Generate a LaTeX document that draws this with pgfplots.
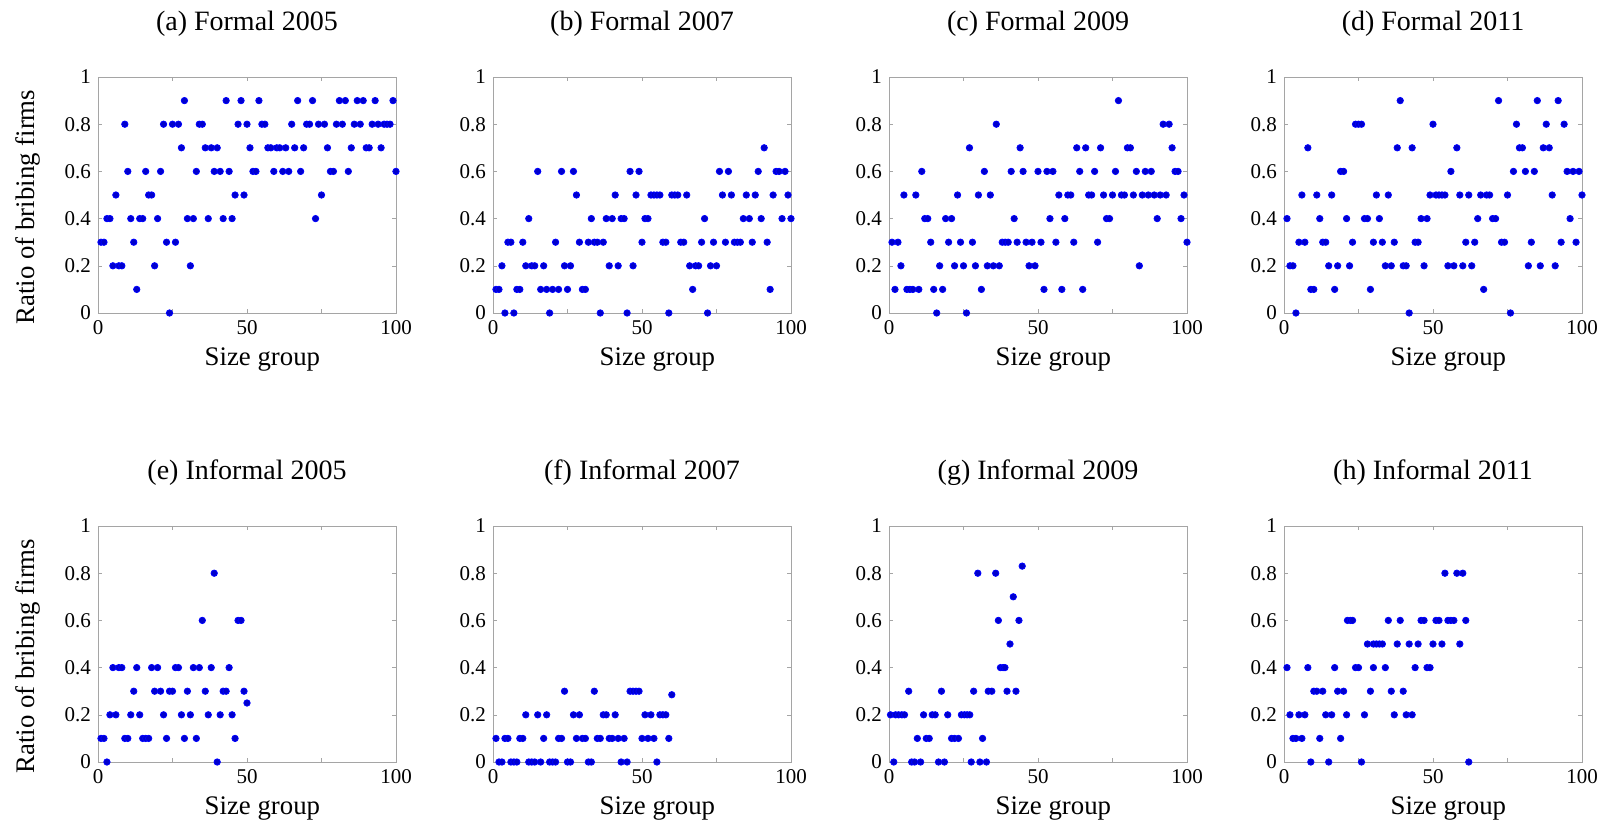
\documentclass[border=0pt]{standalone}
\usepackage{fontspec}
\setmainfont{Liberation Serif}
\usepackage{pgfplots}
\pgfplotsset{compat=1.18}

\definecolor{axgray}{RGB}{165,165,165}
\definecolor{dotblue}{RGB}{0,0,255}

\pgfplotsset{
  panel/.style={
    scale only axis,
    width=149pt, height=118pt,
    xmin=0, xmax=100, ymin=0, ymax=1,
    xtick={0,25,50,75,100}, xticklabels={0,,50,,100},
    ytick={0,0.2,0.4,0.6,0.8,1},
    tick align=inside,
    xtick pos=both, ytick pos=both,
    major tick length=2pt,
    axis line style={axgray},
    tick style={axgray},
    /pgf/number format/assume math mode=true,
    tick label style={font=\fontsize{10.5}{12}\selectfont, black},
    title style={at={(0.5,1)}, anchor=center, yshift=20.5pt,
                 font=\fontsize{14}{16}\selectfont},
    xlabel={Size group},
    xlabel style={at={(0.5,0)}, anchor=center, yshift=-23.5pt, xshift=7.7pt,
                  font=\fontsize{13.4}{15}\selectfont},
    ylabel style={at={(0,0.5)}, anchor=center, yshift=35pt, xshift=-6pt,
                  font=\fontsize{13.4}{15}\selectfont},
    every axis plot/.append style={only marks, mark=*, mark size=1.6pt,
                                   color=dotblue, mark options={draw=dotblue, fill=dotblue}},
  }
}

\begin{document}
\begin{tikzpicture}
\useasboundingbox (0,-412.5pt) rectangle (809pt,0);

% ---------------- Formal firms ----------------
\begin{axis}[panel, at={(49pt,-156.5pt)}, anchor=south west,
  title={(a) Formal 2005}, ylabel={Ratio of bribing firms}]
\addplot coordinates {
(1,0.3)(2,0.3)(3,0.4)(4,0.4)(5,0.2)(6,0.5)(7,0.2)(8,0.2)(9,0.8)(10,0.6)
(11,0.4)(12,0.3)(13,0.1)(14,0.4)(15,0.4)(16,0.6)(17,0.5)(18,0.5)(19,0.2)(20,0.4)
(21,0.6)(22,0.8)(23,0.3)(24,0)(25,0.8)(26,0.3)(27,0.8)(28,0.7)(29,0.9)(30,0.4)
(31,0.2)(32,0.4)(33,0.6)(34,0.8)(35,0.8)(36,0.7)(37,0.4)(38,0.7)(39,0.6)(40,0.7)
(41,0.6)(42,0.4)(43,0.9)(44,0.6)(45,0.4)(46,0.5)(47,0.8)(48,0.9)(49,0.5)(50,0.8)
(51,0.7)(52,0.6)(53,0.6)(54,0.9)(55,0.8)(56,0.8)(57,0.7)(58,0.7)(59,0.6)(60,0.7)
(61,0.7)(62,0.6)(63,0.7)(64,0.6)(65,0.8)(66,0.7)(67,0.9)(68,0.6)(69,0.7)(70,0.8)
(71,0.8)(72,0.9)(73,0.4)(74,0.8)(75,0.5)(76,0.8)(77,0.7)(78,0.6)(79,0.6)(80,0.8)
(81,0.9)(82,0.8)(83,0.9)(84,0.6)(85,0.7)(86,0.8)(87,0.9)(88,0.8)(89,0.9)(90,0.7)
(91,0.7)(92,0.8)(93,0.9)(94,0.8)(95,0.7)(96,0.8)(97,0.8)(98,0.8)(99,0.9)(100,0.6)
};
\end{axis}

\begin{axis}[panel, at={(246.5pt,-156.5pt)}, anchor=south west,
  title={(b) Formal 2007}]
\addplot coordinates {
(1,0.1)(2,0.1)(3,0.2)(4,0)(5,0.3)(6,0.3)(7,0)(8,0.1)(9,0.1)(10,0.3)
(11,0.2)(12,0.4)(13,0.2)(14,0.2)(15,0.6)(16,0.1)(17,0.2)(18,0.1)(19,0)(20,0.1)
(21,0.3)(22,0.1)(23,0.6)(24,0.2)(25,0.1)(26,0.2)(27,0.6)(28,0.5)(29,0.3)(30,0.1)
(31,0.1)(32,0.3)(33,0.4)(34,0.3)(35,0.3)(36,0)(37,0.3)(38,0.4)(39,0.2)(40,0.4)
(41,0.5)(42,0.2)(43,0.4)(44,0.4)(45,0)(46,0.6)(47,0.2)(48,0.5)(49,0.6)(50,0.3)
(51,0.4)(52,0.4)(53,0.5)(54,0.5)(55,0.5)(56,0.5)(57,0.3)(58,0.3)(59,0)(60,0.5)
(61,0.5)(62,0.5)(63,0.3)(64,0.3)(65,0.5)(66,0.2)(67,0.1)(68,0.2)(69,0.2)(70,0.3)
(71,0.4)(72,0)(73,0.2)(74,0.3)(75,0.2)(76,0.6)(77,0.5)(78,0.3)(79,0.6)(80,0.5)
(81,0.3)(82,0.3)(83,0.3)(84,0.4)(85,0.5)(86,0.4)(87,0.3)(88,0.5)(89,0.6)(90,0.4)
(91,0.7)(92,0.3)(93,0.1)(94,0.5)(95,0.6)(96,0.6)(97,0.4)(98,0.6)(99,0.5)(100,0.4)
};
\end{axis}

\begin{axis}[panel, at={(444.5pt,-156.5pt)}, anchor=south west,
  title={(c) Formal 2009}]
\addplot coordinates {
(1,0.3)(2,0.1)(3,0.3)(4,0.2)(5,0.5)(6,0.1)(7,0.1)(8,0.1)(9,0.5)(10,0.1)
(11,0.6)(12,0.4)(13,0.4)(14,0.3)(15,0.1)(16,0)(17,0.2)(18,0.1)(19,0.4)(20,0.3)
(21,0.4)(22,0.2)(23,0.5)(24,0.3)(25,0.2)(26,0)(27,0.7)(28,0.3)(29,0.2)(30,0.5)
(31,0.1)(32,0.6)(33,0.2)(34,0.5)(35,0.2)(36,0.8)(37,0.2)(38,0.3)(39,0.3)(40,0.3)
(41,0.6)(42,0.4)(43,0.3)(44,0.7)(45,0.6)(46,0.3)(47,0.2)(48,0.3)(49,0.2)(50,0.6)
(51,0.3)(52,0.1)(53,0.6)(54,0.4)(55,0.6)(56,0.3)(57,0.5)(58,0.1)(59,0.4)(60,0.5)
(61,0.5)(62,0.3)(63,0.7)(64,0.6)(65,0.1)(66,0.7)(67,0.5)(68,0.5)(69,0.6)(70,0.3)
(71,0.7)(72,0.5)(73,0.4)(74,0.4)(75,0.5)(76,0.6)(77,0.9)(78,0.5)(79,0.5)(80,0.7)
(81,0.7)(82,0.5)(83,0.6)(84,0.2)(85,0.5)(86,0.6)(87,0.5)(88,0.6)(89,0.5)(90,0.4)
(91,0.5)(92,0.8)(93,0.5)(94,0.8)(95,0.7)(96,0.6)(97,0.6)(98,0.4)(99,0.5)(100,0.3)
};
\end{axis}

\begin{axis}[panel, at={(642pt,-156.5pt)}, anchor=south west,
  title={(d) Formal 2011}]
\addplot coordinates {
(1,0.4)(2,0.2)(3,0.2)(4,0)(5,0.3)(6,0.5)(7,0.3)(8,0.7)(9,0.1)(10,0.1)
(11,0.5)(12,0.4)(13,0.3)(14,0.3)(15,0.2)(16,0.5)(17,0.1)(18,0.2)(19,0.6)(20,0.6)
(21,0.4)(22,0.2)(23,0.3)(24,0.8)(25,0.8)(26,0.8)(27,0.4)(28,0.4)(29,0.1)(30,0.3)
(31,0.5)(32,0.4)(33,0.3)(34,0.2)(35,0.5)(36,0.2)(37,0.3)(38,0.7)(39,0.9)(40,0.2)
(41,0.2)(42,0)(43,0.7)(44,0.3)(45,0.3)(46,0.4)(47,0.2)(48,0.4)(49,0.5)(50,0.8)
(51,0.5)(52,0.5)(53,0.5)(54,0.5)(55,0.2)(56,0.6)(57,0.2)(58,0.7)(59,0.5)(60,0.2)
(61,0.3)(62,0.5)(63,0.2)(64,0.3)(65,0.4)(66,0.5)(67,0.1)(68,0.5)(69,0.5)(70,0.4)
(71,0.4)(72,0.9)(73,0.3)(74,0.3)(75,0.5)(76,0)(77,0.6)(78,0.8)(79,0.7)(80,0.7)
(81,0.6)(82,0.2)(83,0.3)(84,0.6)(85,0.9)(86,0.2)(87,0.7)(88,0.8)(89,0.7)(90,0.5)
(91,0.2)(92,0.9)(93,0.3)(94,0.8)(95,0.6)(96,0.4)(97,0.6)(98,0.3)(99,0.6)(100,0.5)
};
\end{axis}

% ---------------- Informal firms ----------------
\begin{axis}[panel, at={(49pt,-381pt)}, anchor=south west,
  title={(e) Informal 2005}, ylabel={Ratio of bribing firms}]
\addplot coordinates {
(1,0.1)(2,0.1)(3,0)(4,0.2)(5,0.4)(6,0.2)(7,0.4)(8,0.4)(9,0.1)(10,0.1)
(11,0.2)(12,0.3)(13,0.4)(14,0.2)(15,0.1)(16,0.1)(17,0.1)(18,0.4)(19,0.3)(20,0.4)
(21,0.3)(22,0.2)(23,0.1)(24,0.3)(25,0.3)(26,0.4)(27,0.4)(28,0.2)(29,0.1)(30,0.3)
(31,0.2)(32,0.4)(33,0.1)(34,0.4)(35,0.6)(36,0.3)(37,0.2)(38,0.4)(39,0.8)(40,0)
(41,0.2)(42,0.3)(43,0.3)(44,0.4)(45,0.2)(46,0.1)(47,0.6)(48,0.6)(49,0.3)(50,0.25)
};
\end{axis}

\begin{axis}[panel, at={(246.5pt,-381pt)}, anchor=south west,
  title={(f) Informal 2007}]
\addplot coordinates {
(1,0.1)(2,0)(3,0)(4,0.1)(5,0.1)(6,0)(7,0)(8,0)(9,0.1)(10,0.1)
(11,0.2)(12,0)(13,0)(14,0)(15,0.2)(16,0)(17,0.1)(18,0.2)(19,0)(20,0)
(21,0)(22,0.1)(23,0.1)(24,0.3)(25,0)(26,0)(27,0.2)(28,0.1)(29,0.2)(30,0.1)
(31,0.1)(32,0)(33,0)(34,0.3)(35,0.1)(36,0.1)(37,0.2)(38,0.2)(39,0.1)(40,0.1)
(41,0.2)(42,0.1)(43,0)(44,0.1)(45,0)(46,0.3)(47,0.3)(48,0.3)(49,0.3)(50,0.1)
(51,0.2)(52,0.1)(53,0.2)(54,0.1)(55,0)(56,0.2)(57,0.2)(58,0.2)(59,0.1)(60,0.285)
};
\end{axis}

\begin{axis}[panel, at={(444.5pt,-381pt)}, anchor=south west,
  title={(g) Informal 2009}]
\addplot coordinates {
(0.5,0.2)(1.6,0)(2.2,0.2)(3.2,0.2)(4.3,0.2)(5.2,0.2)(6.6,0.3)(7.6,0)(8.6,0)(9.5,0.1)
(10.6,0)(11.6,0.2)(12.5,0.1)(13.5,0.1)(14.5,0.2)(15.5,0.2)(16.6,0)(17.6,0.3)(18.6,0)(19.7,0.2)
(21,0.1)(22,0.1)(23.3,0.1)(24.3,0.2)(25.3,0.2)(26.2,0.2)(27.1,0.2)(27.6,0)(28.4,0.3)(29.8,0.8)
(30.5,0)(31.4,0.1)(32.7,0)(33.3,0.3)(34.5,0.3)(35.8,0.8)(36.7,0.6)(37.4,0.4)(38.3,0.4)(38.9,0.4)
(39.6,0.3)(40.6,0.5)(41.7,0.7)(42.6,0.3)(43.6,0.6)(44.7,0.83)
};
\end{axis}

\begin{axis}[panel, at={(642pt,-381pt)}, anchor=south west,
  title={(h) Informal 2011}]
\addplot coordinates {
(1,0.4)(2,0.2)(3,0.1)(4,0.1)(5,0.2)(6,0.1)(7,0.2)(8,0.4)(9,0)(10,0.3)
(11,0.3)(12,0.1)(13,0.3)(14,0.2)(15,0)(16,0.2)(17,0.4)(18,0.3)(19,0.1)(20,0.3)
(21,0.2)(21.3,0.6)(22.3,0.6)(23,0.6)(24,0.4)(25,0.4)(26,0)(27,0.2)(28,0.5)(29,0.3)
(30,0.4)(30,0.5)(31,0.5)(32,0.5)(33,0.5)(34,0.4)(35,0.6)(36,0.3)(37,0.2)(38,0.5)
(39,0.6)(40,0.3)(41,0.2)(42,0.5)(43,0.2)(44,0.4)(45,0.5)(46,0.6)(47,0.6)(48,0.4)
(49,0.4)(50,0.5)(51,0.6)(52,0.6)(53,0.5)(54,0.8)(55,0.6)(56,0.6)(57,0.6)(58,0.8)
(59,0.5)(60,0.8)(61,0.6)(62,0)
};
\end{axis}
\end{tikzpicture}
\end{document}
